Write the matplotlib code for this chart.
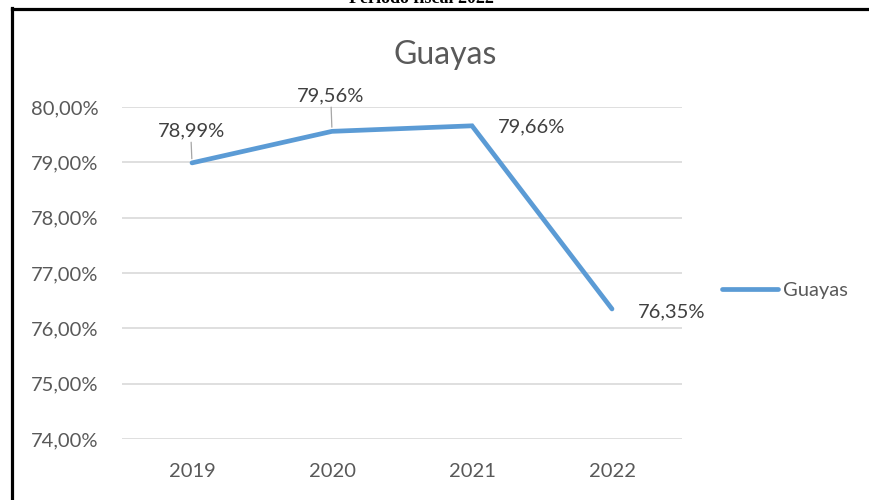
import matplotlib
matplotlib.use("Agg")
import matplotlib.pyplot as plt
from matplotlib.lines import Line2D
from matplotlib.ticker import FuncFormatter

# --- Data ---
years = ["2019", "2020", "2021", "2022"]
guayas = [78.99, 79.56, 79.66, 76.35]
series_name = "Guayas"

# label offsets (points) relative to each data point
label_offsets = [(-0.7, 23), (-0.7, 25.5), (43, -0.7), (43, -2)]
use_leader = [True, True, False, False]

plt.rcParams['font.family'] = ['Lato', 'DejaVu Sans']
GRAY = '#595959'
BLUE = '#5B9BD5'

W, H = 869, 500
fig = plt.figure(figsize=(W / 100, H / 100), dpi=100)
ax = fig.add_axes([122 / W, 1 - 439 / H, (682 - 122) / W, (439 - 107) / H])

x = list(range(len(years)))
ax.plot(x, guayas, color=BLUE, lw=3.4, solid_capstyle='round', solid_joinstyle='miter',
        label=series_name, zorder=3)

ax.set_xlim(-0.5, len(years) - 0.5)
ax.set_ylim(74, 80)
ax.set_yticks([74, 75, 76, 77, 78, 79, 80])
ax.yaxis.set_major_formatter(FuncFormatter(lambda v, p: f"{v:.2f}%".replace('.', ',')))
ax.set_xticks(x)
ax.set_xticklabels(years)
ax.tick_params(axis='both', length=0, labelsize=14.5, labelcolor=GRAY)
ax.tick_params(axis='y', pad=17)
ax.tick_params(axis='x', pad=17)
ax.grid(axis='y', color='#d9d9d9', lw=1.2)
ax.set_axisbelow(True)
for s in ax.spines.values():
    s.set_visible(False)

# data labels
for xi, v, off, lead in zip(x, guayas, label_offsets, use_leader):
    txt = f"{v:.2f}%".replace('.', ',')
    kw = {}
    if lead:
        kw['arrowprops'] = dict(arrowstyle='-', color='#a6a6a6', lw=0.9,
                                shrinkA=0, shrinkB=3, relpos=(0.5, 0))
    ax.annotate(txt, (xi, v), xytext=off, textcoords='offset points',
                ha='center', va='center', fontsize=14.5, color='#404040', **kw)

# title
fig.text(445 / W, 1 - 55 / H, series_name, ha='center', va='center',
         fontsize=23, color=GRAY)

# legend
fig.legend(loc='center left', bbox_to_anchor=(722 / W, 1 - 290 / H),
           frameon=False, fontsize=14.5, handlelength=2.8, handletextpad=0.25,
           borderpad=0, borderaxespad=0, labelcolor=GRAY)

# document frame and cut-off caption above the chart
fig.add_artist(Line2D([11.5 / W, 11.5 / W], [0, 1 - 8 / H], color='black', lw=2.3,
                      transform=fig.transFigure, solid_capstyle='projecting'))
fig.add_artist(Line2D([11.5 / W, 1], [1 - 9 / H, 1 - 9 / H], color='black', lw=2.3,
                      transform=fig.transFigure))
fig.text(421 / W, 1 - 3 / H, "Período fiscal 2022", ha='center', va='baseline',
         fontsize=13, fontweight='bold', family='Liberation Serif', color='black')

fig.savefig("out.png", dpi=100)
